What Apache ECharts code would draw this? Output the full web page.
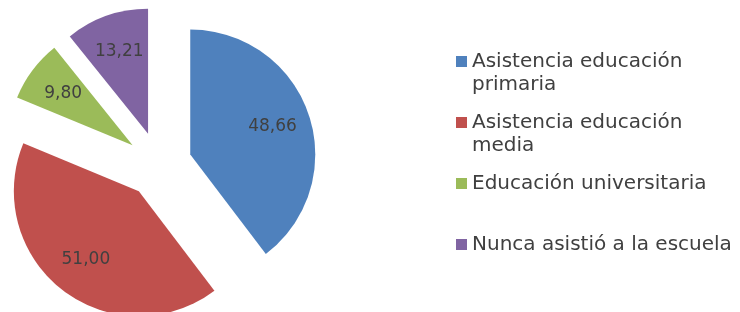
<!DOCTYPE html>
<html>
<head>
<meta charset="utf-8">
<script src="https://cdn.jsdelivr.net/npm/echarts@6/dist/echarts.min.js"></script>
<style>
  html, body { margin: 0; padding: 0; background: #fff; }
  #chart { width: 740px; height: 312px; }
</style>
</head>
<body>
<div id="chart"></div>
<script>
// education attendance pie, exploded slices, legend on the right
var categories = [
  "Asistencia educación primaria",
  "Asistencia educación media",
  "Educación universitaria",
  "Nunca asistió a la escuela"
];
var legendLabels = [
  "Asistencia educación\nprimaria",
  "Asistencia educación\nmedia",
  "Educación universitaria\n ",
  "Nunca asistió a la escuela\n "
];
var values = [48.66, 51.00, 9.80, 13.21];
var colors = ["#4F81BD", "#C0504D", "#9BBB59", "#8064A2"];

function fmt(v) { return v.toFixed(2).replace(".", ","); }

var center = [159, 165];
var R = 125;
var offset = 33;
var lineH = 23;

// square sits at the top of a tall box so it lines up with the first text line
var icon = "path://M0,0L0.01,0M0,6L11,6L11,17L0,17ZM0,46L0.01,46";

var pieData = categories.map(function (c, i) {
  return { name: c, value: values[i], selected: true, itemStyle: { color: colors[i] } };
});
var ghostData = categories.map(function (c, i) {
  return { name: c, value: values[i], selected: true, itemStyle: { color: "rgba(0,0,0,0)" } };
});

var chart = echarts.init(document.getElementById("chart"));
chart.setOption({
  animation: false,
  color: colors,
  legend: {
    orient: "vertical",
    left: 456,
    top: 50,
    padding: 0,
    itemWidth: 11,
    itemHeight: lineH * 2,
    itemGap: 15,
    icon: icon,
    data: categories,
    formatter: function (name) { return legendLabels[categories.indexOf(name)]; },
    textStyle: {
      fontFamily: "DejaVu Sans",
      fontSize: 20,
      color: "#404040",
      lineHeight: lineH
    }
  },
  series: [
    {
      type: "pie",
      center: center,
      radius: [0, R],
      startAngle: 90,
      clockwise: true,
      selectedMode: "multiple",
      selectedOffset: offset,
      silent: true,
      label: { show: false },
      labelLine: { show: false },
      emphasis: { disabled: true },
      data: pieData
    },
    {
      type: "pie",
      center: center,
      radius: [R * 0.34, R],
      startAngle: 90,
      clockwise: true,
      selectedMode: "multiple",
      selectedOffset: offset,
      silent: true,
      z: 3,
      label: {
        show: true,
        position: "inside",
        formatter: function (p) { return fmt(p.value); },
        fontFamily: "DejaVu Sans",
        fontSize: 17,
        color: "#404040"
      },
      labelLine: { show: false },
      emphasis: { disabled: true },
      data: ghostData
    }
  ]
});
</script>
</body>
</html>
